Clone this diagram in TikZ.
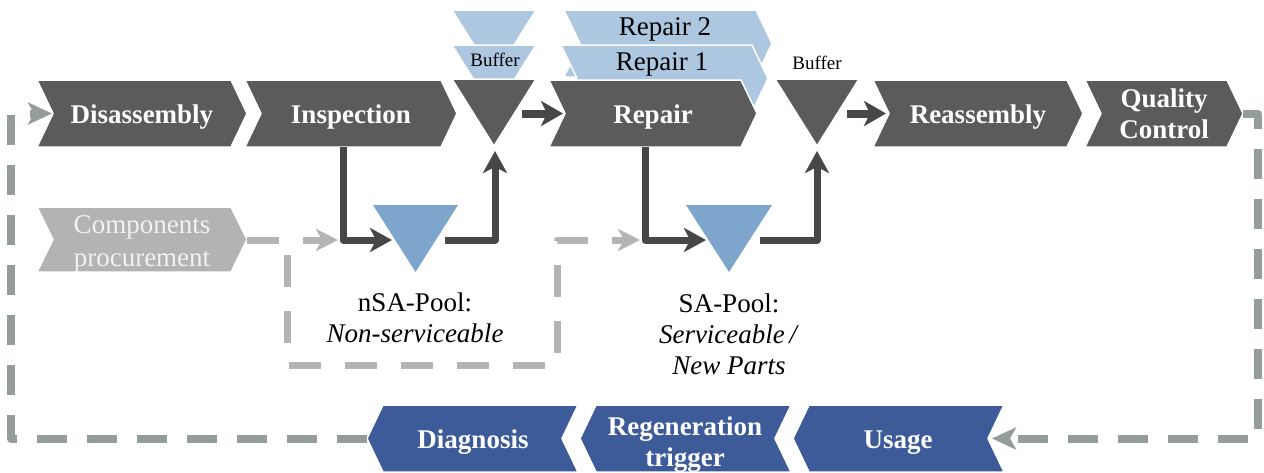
\documentclass[tikz,border=0pt]{standalone}
\usepackage{fontspec}
\setmainfont{Liberation Serif}
\usetikzlibrary{arrows.meta}
\definecolor{procgray}{HTML}{5B5B5B}
\definecolor{arrgray}{HTML}{474747}
\definecolor{lightblue}{HTML}{ADC7E1}
\definecolor{poolblue}{HTML}{7EA6CC}
\definecolor{compgray}{HTML}{B3B3B3}
\definecolor{dashlight}{HTML}{B4B4B4}
\definecolor{loopgray}{HTML}{959D9B}
\definecolor{navyblue}{HTML}{3C5B98}
% right-pointing chevron: #1 fill, #2 left x, #3 top y, #4 width, #5 height
\newcommand\rchevshape[5]{%
  \fill[#1, draw=white, line width=1.5pt] (#2,#3) -- ++(#4-16,0) -- ++(16,#5/2) -- ++(-16,#5/2) -- ++(16-#4,0) -- ++(16,-#5/2) -- cycle;}
% left-pointing chevron: #1 fill, #2 tip x, #3 top y, #4 width, #5 height
\newcommand\lchevshape[5]{%
  \fill[#1, draw=white, line width=1.5pt] (#2,#3+#5/2) -- ++(16,-#5/2) -- ++(#4-16,0) -- ++(-16,#5/2) -- ++(16,#5/2) -- ++(16-#4,0) -- cycle;}
\tikzset{
  lbl/.style={text=white, font=\bfseries\fontsize{27}{31}\selectfont, inner sep=0pt, align=center},
  plain/.style={text=black, font=\fontsize{27}{31}\selectfont, inner sep=0pt, align=center},
  buftxt/.style={text=black, font=\fontsize{19}{22}\selectfont, inner sep=0pt},
  darrow/.style={draw=arrgray, line width=7pt, line join=round, -{Stealth[length=22pt,width=24pt,inset=6pt]}},
  flowarrow/.style={draw=arrgray, line width=8pt, -{Stealth[length=22pt,width=25pt,inset=6pt]}},
  loopline/.style={draw=loopgray, line width=8pt, line join=round, dash pattern=on 30pt off 20pt},
  looparrow/.style={loopline, -{Stealth[length=24pt,width=22pt,inset=6pt]}},
  lightline/.style={draw=dashlight, line width=7pt, line join=round, dash pattern=on 32pt off 24pt},
  lightarrow/.style={lightline, -{Stealth[length=22pt,width=22pt,inset=6pt]}},
}
\begin{document}
\begin{tikzpicture}[x=1pt,y=-1pt]
\useasboundingbox (0,0) rectangle (1264,472);

% ---------- top process row ----------
\rchevshape{procgray}{37}{80}{210}{67}
\node[lbl, anchor=base] (dis) at (142,123) {Disassembly};
\rchevshape{procgray}{245}{80}{212}{67}
\node[lbl, anchor=base] (insp) at (351,123) {Inspection};

% buffer 1 with stacked light triangles
\fill[lightblue, draw=white, line width=1.5pt] (452,10) -- (536,10) -- (494,77) -- cycle;
\fill[lightblue, draw=white, line width=1.5pt] (452,45) -- (536,45) -- (494,112) -- cycle;
\node[buftxt, anchor=base] (buf1lbl) at (495,66) {Buffer};
\fill[procgray, draw=white, line width=1.5pt] (452,79) -- (536,79) -- (494,146) -- cycle;
\coordinate (buf1apex) at (495,146);

% repair stack
\rchevshape{lightblue}{564}{10}{208}{67}
\node[plain, anchor=base] (rep2) at (665,35) {Repair 2};
\rchevshape{lightblue}{561}{45}{207}{67}
\node[plain, anchor=base] (rep1) at (662,70) {Repair 1};
\rchevshape{procgray}{549}{80}{208}{67}
\node[lbl, anchor=base] (rep) at (653,123) {Repair};

% buffer 2
\node[buftxt, anchor=base] (buf2lbl) at (817,69) {Buffer};
\fill[procgray, draw=white, line width=1.5pt] (775,79) -- (859,79) -- (817,146) -- cycle;
\coordinate (buf2apex) at (817,146);

\rchevshape{procgray}{873}{80}{210}{67}
\node[lbl, anchor=base] (reas) at (978,123) {Reassembly};
\rchevshape{procgray}{1085}{80}{158}{67}
\node[lbl] (qc) at (1164,114) {Quality\\Control};

% ---------- components procurement ----------
\rchevshape{compgray}{37}{207}{210}{65}
\node[plain, text=white!95!black, font=\fontsize{27}{33}\selectfont] (comp) at (142,244) {Components\\procurement};

% ---------- pools ----------
\fill[poolblue] (373,205) -- (458,205) -- (415.5,272) -- cycle;
\node[plain] (nsa) at (415,318) {nSA-Pool:\\\textit{Non-serviceable}};
\fill[poolblue] (686,205) -- (772,205) -- (729,272) -- cycle;
\node[plain] (sa) at (729,334) {SA-Pool:\\\textit{Serviceable\,/}\\\textit{New Parts}};

% ---------- bottom row ----------
\lchevshape{navyblue}{367}{405}{211}{67}
\node[lbl, anchor=base] (diag) at (473,448) {Diagnosis};
\lchevshape{navyblue}{580}{405}{211}{67}
\node[lbl] (regen) at (685,445) {Regeneration\\trigger};
\lchevshape{navyblue}{793}{405}{211}{67}
\node[lbl, anchor=base] (usage) at (898,448) {Usage};

% ---------- connector end points ----------
\coordinate (disIn) at (52,113.5);
\coordinate (qcOut) at (1243,113.5);
\coordinate (loopR) at (1258,113.5);
\coordinate (usageIn) at (992,438.5);
\coordinate (diagOut) at (367,438.5);
\coordinate (loopL) at (11,438.5);
\coordinate (buf1Out) at (522,113.5);
\coordinate (repIn) at (563,113.5);
\coordinate (buf2Out) at (847,113.5);
\coordinate (reasIn) at (886,113.5);
\coordinate (inspOut) at (343,147);
\coordinate (nsaIn) at (392,240);
\coordinate (nsaOut) at (445,240);
\coordinate (buf1In) at (495,151);
\coordinate (repOut) at (645,147);
\coordinate (saIn) at (706,240);
\coordinate (saOut) at (760,240);
\coordinate (buf2In) at (817,151);
\coordinate (compOut) at (247,240);
\coordinate (compToNsa) at (338,240);
\coordinate (splitTop) at (287,255);
\coordinate (boxBL) at (287,365);
\coordinate (boxBR) at (557,365);
\coordinate (compToSa) at (640,240);

% ---------- connectors ----------
\draw[looparrow] (qcOut) -- (loopR) |- (usageIn);
\draw[looparrow] (diagOut) -- (loopL) |- (disIn);

\draw[flowarrow] (buf1Out) -- (repIn);
\draw[flowarrow] (buf2Out) -- (reasIn);

\draw[lightarrow] (compOut) -- (compToNsa);
\draw[lightarrow] (splitTop) -- (boxBL) -- (boxBR) |- (compToSa);

\draw[darrow] (inspOut) |- (nsaIn);
\draw[darrow] (nsaOut) -| (buf1In);
\draw[darrow] (repOut) |- (saIn);
\draw[darrow] (saOut) -| (buf2In);
\end{tikzpicture}
\end{document}
